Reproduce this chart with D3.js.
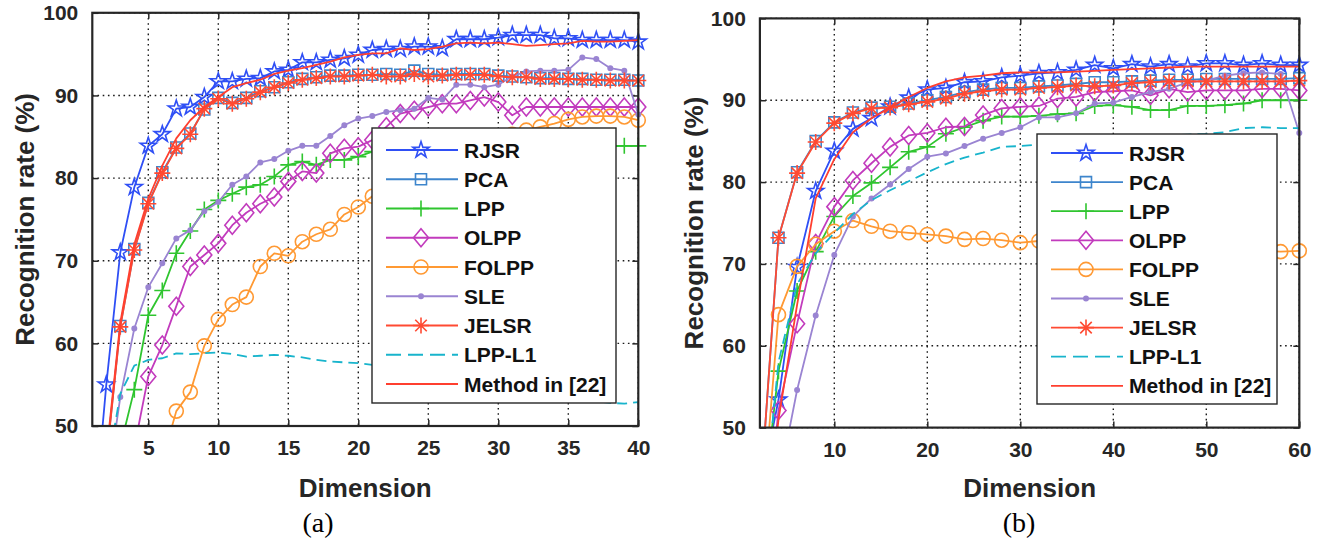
<!DOCTYPE html>
<html>
<head>
<meta charset="utf-8">
<script src="https://cdn.jsdelivr.net/npm/d3@7/dist/d3.min.js"></script>
<style>
  body { margin: 0; background: #fff; }
  svg { display: block; font-family: "Liberation Sans", Arial, Helvetica, sans-serif; }
</style>
</head>
<body>
<svg id="chart" width="1325" height="547"></svg>
<script>
// ---------- data ----------
const methodNames = ["RJSR", "PCA", "LPP", "OLPP", "FOLPP", "SLE", "JELSR", "LPP-L1", "Method in [22]"];
const yTicks = [50, 60, 70, 80, 90, 100];

// panel (a): dimensions 1..40
const dimsA = d3.range(1, 41);
const xTicksA = [5, 10, 15, 20, 25, 30, 35, 40];
const rjsrA = [36, 55.0, 71.0, 78.9, 83.9, 85.3, 88.4, 88.6, 89.8, 91.7, 91.7, 92.0, 92.1, 92.9, 93.1, 94.0, 94.0, 94.3, 94.5, 94.9, 95.5, 95.6, 95.6, 95.9, 95.9, 95.7, 96.8, 96.8, 96.8, 97.0, 97.3, 97.3, 97.3, 96.9, 96.9, 96.7, 96.7, 96.7, 96.7, 96.5];
const pcaA = [30, 46.0, 62.1, 71.4, 77.0, 80.7, 83.7, 85.4, 88.3, 89.7, 89.1, 89.7, 90.5, 91.0, 91.6, 92.0, 92.2, 92.4, 92.4, 92.5, 92.5, 92.6, 92.5, 93.0, 92.6, 92.5, 92.6, 92.6, 92.6, 92.4, 92.3, 92.2, 92.1, 92.1, 92.0, 92.0, 91.9, 91.9, 91.9, 91.8];
const lppA = [30, 40.0, 47.5, 54.4, 63.4, 66.4, 70.9, 73.6, 76.2, 77.3, 78.1, 78.9, 79.2, 80.2, 81.6, 82.0, 81.6, 82.2, 82.2, 82.6, 83.2, 83.4, 83.5, 83.5, 83.6, 83.7, 83.8, 83.8, 83.8, 83.9, 83.9, 83.9, 83.9, 83.9, 83.9, 83.9, 83.9, 83.9, 83.9, 83.9];
const olppA = [25, 32.0, 40.0, 47.4, 56.0, 59.8, 64.5, 69.3, 70.7, 72.1, 74.3, 75.8, 76.9, 77.7, 79.6, 80.8, 80.6, 83.0, 83.6, 83.8, 84.6, 86.2, 87.8, 88.2, 88.6, 89.0, 89.0, 89.4, 89.8, 89.2, 87.6, 88.6, 88.6, 88.6, 88.6, 88.6, 88.6, 88.6, 88.6, 88.6];
const folppA = [25, 30.0, 34.0, 38.0, 42.0, 45.8, 51.8, 54.1, 59.7, 62.9, 64.7, 65.6, 69.3, 70.9, 70.6, 72.3, 73.2, 73.8, 75.6, 76.5, 77.8, 78.8, 79.8, 80.6, 81.4, 82.2, 82.9, 83.6, 84.2, 84.8, 85.3, 85.8, 86.2, 86.6, 87.1, 87.4, 87.5, 87.5, 87.4, 87.0];
const sleA = [30, 41.8, 53.5, 61.8, 66.8, 69.7, 72.7, 73.7, 76.0, 77.1, 79.2, 80.2, 81.9, 82.3, 83.3, 83.9, 83.9, 85.1, 86.4, 87.2, 87.5, 88.0, 88.2, 88.4, 89.7, 89.5, 91.3, 91.3, 91.0, 91.3, 92.3, 92.9, 93.0, 93.0, 93.1, 94.6, 94.4, 93.3, 93.0, 87.7];
const jelsrA = [30, 45.8, 62.0, 71.3, 76.9, 80.6, 83.6, 85.3, 88.4, 89.6, 89.0, 89.6, 90.4, 91.0, 91.5, 91.9, 92.1, 92.3, 92.3, 92.4, 92.5, 92.3, 92.3, 92.6, 92.3, 92.4, 92.5, 92.5, 92.5, 92.3, 92.2, 92.2, 92.0, 92.0, 92.0, 91.9, 91.9, 91.8, 91.8, 91.8];
const lppL1A = [30, 44.0, 53.9, 57.3, 58.0, 58.2, 58.8, 58.7, 58.8, 58.9, 58.7, 58.4, 58.5, 58.6, 58.5, 58.3, 58.0, 57.8, 57.7, 57.6, 57.4, 57.2, 56.9, 56.6, 56.3, 56.0, 55.7, 55.4, 55.1, 54.8, 54.5, 54.2, 54.0, 53.7, 53.5, 53.2, 53.0, 52.8, 52.7, 52.9];
const ref22A = [30, 46.5, 62.5, 72.0, 77.5, 81.5, 84.8, 87.0, 88.6, 89.8, 91.0, 91.5, 91.9, 92.6, 93.0, 93.3, 93.7, 94.1, 94.6, 94.9, 95.1, 95.1, 95.7, 95.5, 95.6, 95.9, 96.3, 96.4, 96.3, 96.4, 96.2, 96.0, 96.1, 96.2, 96.3, 96.6, 96.5, 96.5, 96.6, 96.7];

// panel (b): dimensions 2..60, step 2
const dimsB = d3.range(2, 61, 2);
const xTicksB = [10, 20, 30, 40, 50, 60];
const rjsrB = [42, 53.4, 69.6, 78.9, 83.8, 86.5, 87.8, 89.2, 90.3, 91.3, 91.5, 92.2, 92.3, 92.8, 93.0, 93.3, 93.4, 93.7, 94.3, 93.9, 94.4, 94.1, 94.4, 94.1, 94.5, 94.5, 94.3, 94.5, 94.3, 94.3];
const pcaB = [41, 73.2, 81.2, 85.0, 87.3, 88.5, 89.1, 89.2, 89.6, 90.0, 90.4, 91.0, 91.3, 91.5, 91.5, 91.7, 91.8, 92.0, 92.2, 92.2, 92.3, 92.4, 92.5, 92.5, 92.6, 92.6, 92.6, 92.6, 92.6, 92.7];
const lppB = [37, 56.9, 66.7, 71.5, 75.8, 78.3, 79.9, 81.8, 83.7, 84.3, 85.9, 86.7, 87.5, 88.0, 88.0, 88.1, 88.3, 88.4, 89.3, 89.4, 89.2, 88.8, 88.8, 89.3, 89.3, 89.4, 89.6, 90.0, 90.0, 90.0];
const olppB = [30, 52.1, 62.7, 72.5, 77.0, 80.2, 82.3, 84.3, 85.7, 86.0, 86.7, 86.8, 88.2, 89.0, 89.2, 89.3, 90.2, 90.4, 91.0, 91.1, 91.2, 90.6, 91.4, 91.0, 91.2, 91.2, 91.2, 91.4, 91.4, 91.2];
const folppB = [36, 63.8, 69.7, 72.4, 74.0, 75.3, 74.6, 74.0, 73.8, 73.6, 73.4, 73.0, 73.1, 72.9, 72.6, 72.8, 72.7, 72.6, 72.5, 72.4, 72.3, 72.2, 72.1, 72.0, 71.9, 71.8, 71.7, 71.6, 71.5, 71.6];
const sleB = [30, 43.0, 54.6, 63.7, 71.1, 75.8, 78.0, 79.7, 81.6, 83.1, 83.5, 84.4, 85.3, 86.0, 86.7, 87.9, 87.9, 88.4, 89.6, 89.7, 90.4, 91.0, 91.4, 92.2, 92.4, 93.0, 93.3, 93.4, 93.2, 86.0];
const jelsrB = [41, 73.2, 81.1, 84.9, 87.2, 88.4, 89.0, 89.1, 89.5, 89.8, 90.2, 90.8, 91.1, 91.3, 91.3, 91.5, 91.6, 91.8, 91.7, 91.8, 92.1, 92.2, 92.3, 92.3, 92.3, 92.3, 92.3, 92.3, 92.3, 92.4];
const lppL1B = [35, 58.0, 67.5, 71.3, 73.8, 76.1, 77.8, 79.0, 80.1, 81.2, 82.2, 83.0, 83.6, 84.3, 84.4, 84.6, 84.8, 85.0, 85.2, 85.3, 85.5, 85.6, 85.7, 85.8, 85.9, 86.1, 86.6, 86.7, 86.6, 86.6];
const ref22B = [30, 51.0, 65.0, 78.0, 82.8, 86.1, 87.8, 89.1, 90.4, 91.5, 92.3, 92.8, 93.0, 93.3, 93.4, 93.4, 93.4, 93.5, 93.6, 93.7, 93.8, 93.9, 94.0, 94.1, 94.1, 94.1, 94.1, 94.1, 94.1, 94.1];

// ---------- styles ----------
const seriesColors = ["#2f4ff5", "#3d85cc", "#2fc52f", "#c23bbd", "#ff9933", "#9a84d2", "#ff4a32", "#18b4cc", "#ff3f2f"];
const seriesMarkers = ["star", "square", "plus", "diamond", "circle", "dot", "asterisk", "none", "none"];
const seriesDash = [null, null, null, null, null, null, null, "10,6", null];
const axisColor = "#262626";
const sansFont = "'Liberation Sans', Arial, Helvetica, sans-serif";
const serifFont = "'Liberation Serif', 'Times New Roman', Times, serif";

// marker path builders (centred on 0,0)
function markerPath(kind) {
  const p = d3.path();
  if (kind === "star") {
    const R = 8.5, r = R * 0.382;
    for (let i = 0; i < 10; i++) {
      const a = -Math.PI / 2 + i * Math.PI / 5;
      const rr = i % 2 === 0 ? R : r;
      if (i === 0) p.moveTo(rr * Math.cos(a), rr * Math.sin(a));
      else p.lineTo(rr * Math.cos(a), rr * Math.sin(a));
    }
    p.closePath();
  } else if (kind === "square") {
    p.rect(-5.5, -5.5, 11, 11);
  } else if (kind === "plus") {
    p.moveTo(-8, 0); p.lineTo(8, 0); p.moveTo(0, -8); p.lineTo(0, 8);
  } else if (kind === "diamond") {
    p.moveTo(0, -9); p.lineTo(7.5, 0); p.lineTo(0, 9); p.lineTo(-7.5, 0); p.closePath();
  } else if (kind === "circle") {
    p.moveTo(7, 0); p.arc(0, 0, 7, 0, 2 * Math.PI);
  } else if (kind === "asterisk") {
    const s = 8, d = 8 * 0.72;
    p.moveTo(-s, 0); p.lineTo(s, 0); p.moveTo(0, -s); p.lineTo(0, s);
    p.moveTo(-d, -d); p.lineTo(d, d); p.moveTo(-d, d); p.lineTo(d, -d);
  } else if (kind === "dot") {
    p.moveTo(2.2, 0); p.arc(0, 0, 2.2, 0, 2 * Math.PI);
  }
  return p.toString();
}

const svg = d3.select("#chart");
svg.append("rect").attr("width", 1325).attr("height", 547).attr("fill", "#fff");

const panels = [
  {
    id: "a", left: 92.3, top: 12.8, right: 638.3, bottom: 426,
    xDomain: [1, 40], xTicks: xTicksA, dims: dimsA,
    series: [rjsrA, pcaA, lppA, olppA, folppA, sleA, jelsrA, lppL1A, ref22A],
    legend: { x: 372, y: 128, w: 244, h: 275, firstRow: 150, rowGap: 29.25 },
    yTitleX: 34, caption: "(a)", captionX: 318
  },
  {
    id: "b", left: 759.9, top: 18.4, right: 1299.3, bottom: 427.6,
    xDomain: [2, 60], xTicks: xTicksB, dims: dimsB,
    series: [rjsrB, pcaB, lppB, olppB, folppB, sleB, jelsrB, lppL1B, ref22B],
    legend: { x: 1037, y: 134, w: 240, h: 270, firstRow: 153, rowGap: 29.1 },
    yTitleX: 703, caption: "(b)", captionX: 1019
  }
];

panels.forEach(P => {
  const x = d3.scaleLinear().domain(P.xDomain).range([P.left, P.right]);
  const y = d3.scaleLinear().domain([50, 100]).range([P.bottom, P.top]);
  const g = svg.append("g");

  // clip region for lines
  const clipId = "clip-" + P.id;
  svg.append("defs").append("clipPath").attr("id", clipId)
    .append("rect").attr("x", P.left).attr("y", P.top)
    .attr("width", P.right - P.left).attr("height", P.bottom - P.top);

  // dotted grid
  const grid = g.append("g").attr("stroke", "#1a1a1a").attr("stroke-width", 1.4)
    .attr("stroke-dasharray", "1.6,3.6");
  P.xTicks.forEach(t => {
    grid.append("line").attr("x1", x(t)).attr("x2", x(t)).attr("y1", P.top).attr("y2", P.bottom);
  });
  yTicks.forEach(t => {
    grid.append("line").attr("x1", P.left).attr("x2", P.right).attr("y1", y(t)).attr("y2", y(t));
  });

  // axes with inward ticks
  const axB = d3.axisBottom(x).tickValues(P.xTicks).tickSizeInner(-6).tickSizeOuter(0).tickPadding(14);
  const axL = d3.axisLeft(y).tickValues(yTicks).tickSizeInner(-6).tickSizeOuter(0).tickPadding(14);
  const axT = d3.axisTop(x).tickValues(P.xTicks).tickSizeInner(-6).tickSizeOuter(0).tickFormat("");
  const axR = d3.axisRight(y).tickValues(yTicks).tickSizeInner(-6).tickSizeOuter(0).tickFormat("");
  const styleAxis = sel => {
    sel.attr("font-family", null).attr("font-size", null);
    sel.select(".domain").remove();
    sel.selectAll("line").attr("stroke", axisColor).attr("stroke-width", 1.5);
    sel.selectAll("text").attr("fill", axisColor).style("font-size", "21px").style("font-weight", "bold")
      .style("font-family", sansFont);
  };
  g.append("g").attr("transform", `translate(0,${P.bottom})`).call(axB).call(styleAxis);
  g.append("g").attr("transform", `translate(${P.left},0)`).call(axL).call(styleAxis);
  g.append("g").attr("transform", `translate(0,${P.top})`).call(axT).call(styleAxis);
  g.append("g").attr("transform", `translate(${P.right},0)`).call(axR).call(styleAxis);

  // series
  const line = d3.line().x((d, i) => x(P.dims[i])).y(d => y(d));
  P.series.forEach((vals, k) => {
    const col = seriesColors[k];
    const sg = g.append("g");
    const path = sg.append("path").datum(vals)
      .attr("clip-path", `url(#${clipId})`)
      .attr("d", line).attr("fill", "none").attr("stroke", col)
      .attr("stroke-width", 1.8).attr("stroke-linejoin", "round");
    if (seriesDash[k]) path.attr("stroke-dasharray", seriesDash[k]);
    const mk = seriesMarkers[k];
    if (mk !== "none") {
      const pts = vals.map((v, i) => [P.dims[i], v]).filter(d => d[1] >= 50 && d[1] <= 100);
      sg.selectAll("path.m").data(pts).enter().append("path").attr("class", "m")
        .attr("transform", d => `translate(${x(d[0])},${y(d[1])})`)
        .attr("d", markerPath(mk))
        .attr("fill", mk === "dot" ? col : "none")
        .attr("stroke", col).attr("stroke-width", 1.6);
    }
  });

  // axes box
  g.append("rect").attr("x", P.left).attr("y", P.top)
    .attr("width", P.right - P.left).attr("height", P.bottom - P.top)
    .attr("fill", "none").attr("stroke", axisColor).attr("stroke-width", 2.2);

  // legend
  const L = P.legend;
  const lg = g.append("g");
  lg.append("rect").attr("x", L.x).attr("y", L.y).attr("width", L.w).attr("height", L.h)
    .attr("fill", "#fff").attr("stroke", axisColor).attr("stroke-width", 1.4);
  methodNames.forEach((name, k) => {
    const cy = L.firstRow + k * L.rowGap;
    const col = seriesColors[k];
    const ln = lg.append("line").attr("x1", L.x + 14).attr("x2", L.x + 86).attr("y1", cy).attr("y2", cy)
      .attr("stroke", col).attr("stroke-width", 1.8);
    if (seriesDash[k]) ln.attr("stroke-dasharray", "15,7");
    const mk = seriesMarkers[k];
    if (mk !== "none") {
      lg.append("path").attr("transform", `translate(${L.x + 49},${cy})`)
        .attr("d", markerPath(mk)).attr("fill", mk === "dot" ? col : "none")
        .attr("stroke", col).attr("stroke-width", 1.6);
    }
    lg.append("text").attr("x", L.x + 92).attr("y", cy + 7.5)
      .style("font-size", "21px").style("font-weight", "bold").style("font-family", sansFont)
      .attr("fill", "#111").text(name);
  });

  // axis titles
  g.append("text").attr("x", (P.left + P.right) / 2).attr("y", 497)
    .attr("text-anchor", "middle").style("font-size", "26px").style("font-weight", "bold")
    .style("font-family", sansFont).attr("fill", axisColor).text("Dimension");
  g.append("text").attr("transform", `translate(${P.yTitleX},${(P.top + P.bottom) / 2}) rotate(-90)`)
    .attr("text-anchor", "middle").style("font-size", "26px").style("font-weight", "bold")
    .style("font-family", sansFont).attr("fill", axisColor).text("Recognition rate (%)");
  // panel caption
  g.append("text").attr("x", P.captionX).attr("y", 532)
    .attr("text-anchor", "middle").style("font-size", "28px")
    .style("font-family", serifFont).attr("fill", "#000").text(P.caption);
});
</script>
</body>
</html>
